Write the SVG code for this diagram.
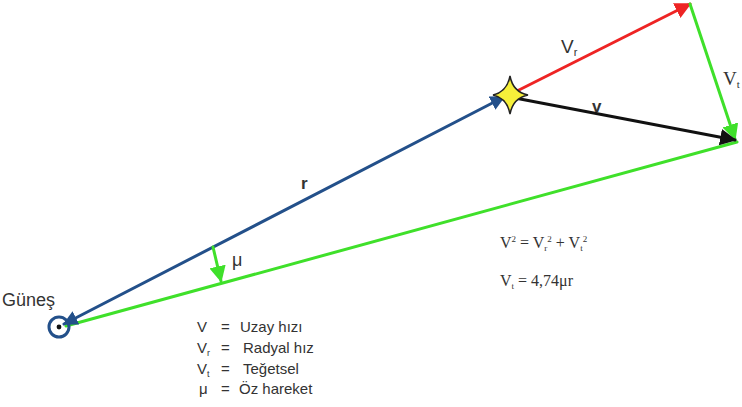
<svg xmlns="http://www.w3.org/2000/svg" width="742" height="407" viewBox="0 0 742 407">
<style>
.ln{fill:none;stroke-width:3;stroke-linecap:round}
.blue{stroke:#23508a}
.green{stroke:#3fe02a}
.red{stroke:#ee2424}
.blk{stroke:#111}
.t{font-family:"Liberation Sans",Arial,sans-serif;fill:#333}
.s{font-family:"Liberation Serif","Times New Roman",serif;fill:#333}
</style>
<defs>
<marker id="ab" viewBox="0 0 10 10" refX="9" refY="5" markerWidth="5" markerHeight="5" orient="auto-start-reverse" markerUnits="strokeWidth"><path d="M0,0 L10,5 L0,10 z" fill="#23508a"/></marker>
<marker id="ag" viewBox="0 0 10 10" refX="9" refY="5" markerWidth="5.5" markerHeight="5.5" orient="auto" markerUnits="strokeWidth"><path d="M0,0 L10,5 L0,10 z" fill="#3fe02a"/></marker>
<marker id="ar" viewBox="0 0 10 10" refX="9" refY="5" markerWidth="5.5" markerHeight="5.5" orient="auto" markerUnits="strokeWidth"><path d="M0,0 L10,5 L0,10 z" fill="#ee2424"/></marker>
<marker id="ak" viewBox="0 0 10 10" refX="9" refY="5" markerWidth="5.5" markerHeight="5.5" orient="auto" markerUnits="strokeWidth"><path d="M0,0 L10,5 L0,10 z" fill="#111"/></marker>
</defs>
<g id="connectors">
<line class="ln green" x1="737" y1="142" x2="66" y2="326"/>
<line class="ln blue" x1="64" y1="324" x2="504" y2="97" marker-start="url(#ab)" marker-end="url(#ab)"/>
<line class="ln red" x1="515" y1="92" x2="690" y2="4" marker-end="url(#ar)"/>
<line class="ln green" x1="690" y1="4" x2="735" y2="139" marker-end="url(#ag)"/>
<line class="ln blk" x1="515" y1="98" x2="735" y2="140" marker-end="url(#ak)"/>
<line class="ln green" x1="213" y1="247" x2="221" y2="281" marker-end="url(#ag)"/>
</g>
<g id="sun">
<circle cx="59" cy="327" r="10" fill="none" stroke="#23508a" stroke-width="3"/>
<circle cx="59" cy="327" r="2.4" fill="#111"/>
<text class="t" x="2" y="306" font-size="18">Güneş</text>
</g>
<g id="star">
<path d="M510,76 Q513,92 528,95 Q513,98 510,114 Q507,98 493,95 Q507,92 510,76 Z" fill="#f6f03a" stroke="#222" stroke-width="1.5"/>
</g>
<g id="labels">
<text class="t" x="301" y="189" font-size="17" font-weight="bold" fill="#222">r</text>
<text class="t" x="232" y="266" font-size="18">μ</text>
<text class="t" x="561" y="53" font-size="19">V<tspan font-size="11" dy="3">r</tspan></text>
<text class="t" x="592" y="112" font-size="17" font-weight="bold" fill="#111">v</text>
<text class="s" x="723" y="85" font-size="19">V<tspan font-size="11" dy="3">t</tspan></text>
</g>
<g id="formulas">
<text class="s" x="500" y="248" font-size="16">V<tspan font-size="9" dy="-6">2</tspan><tspan dy="6"> = V</tspan><tspan font-size="9" dy="3">r</tspan><tspan font-size="9" dy="-9">2</tspan><tspan dy="6"> + V</tspan><tspan font-size="9" dy="3">t</tspan><tspan font-size="9" dy="-9">2</tspan></text>
<text class="s" x="500" y="286" font-size="16">V<tspan font-size="9" dy="3">t</tspan><tspan dy="-3"> = 4,74μr</tspan></text>
</g>
<g id="legend" class="t" font-size="15">
<text class="t" x="197" y="332" font-size="15">V</text><text class="t" x="221" y="332" font-size="15">=</text><text class="t" x="240" y="332" font-size="15">Uzay hızı</text>
<text class="t" x="197" y="353" font-size="15">V<tspan font-size="9" dy="3">r</tspan></text><text class="t" x="221" y="353" font-size="15">=</text><text class="t" x="243" y="353" font-size="15">Radyal hız</text>
<text class="t" x="197" y="374" font-size="15">V<tspan font-size="9" dy="3">t</tspan></text><text class="t" x="221" y="374" font-size="15">=</text><text class="t" x="243" y="374" font-size="15">Teğetsel</text>
<text class="t" x="199" y="394" font-size="15">μ</text><text class="t" x="221" y="394" font-size="15">=</text><text class="t" x="239" y="394" font-size="15">Öz hareket</text>
</g>
</svg>
